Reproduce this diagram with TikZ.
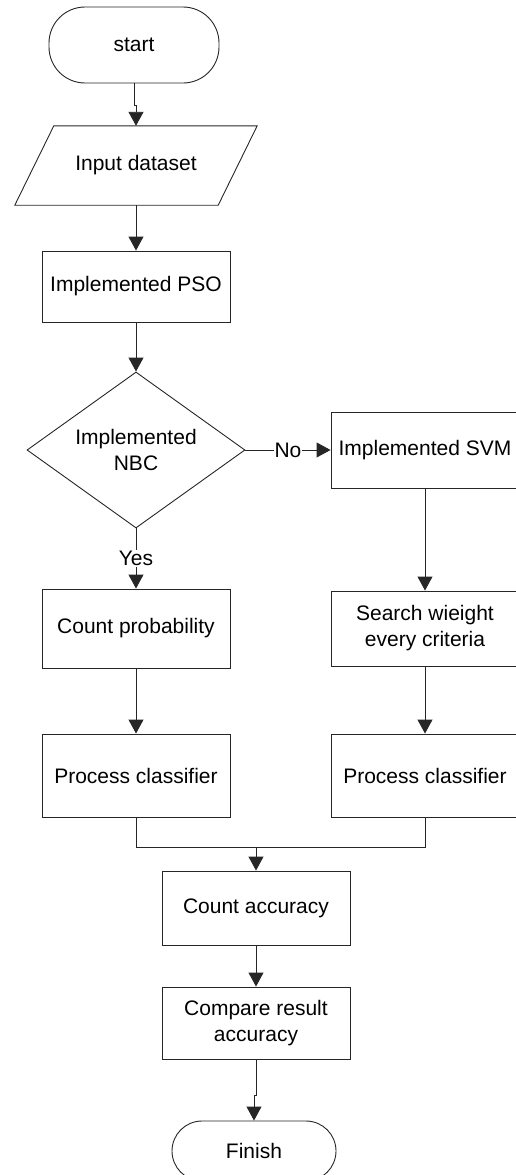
\documentclass[tikz,border=0pt]{standalone}
\usepackage{fontspec}
\setmainfont{Liberation Sans}
\usetikzlibrary{shapes.geometric,arrows.meta}
\begin{document}
\begin{tikzpicture}[x=1pt,y=-1pt,
  every node/.style={font=\fontsize{21}{26}\selectfont},
  box/.style={draw=black!85, line width=0.9pt, rectangle, minimum width=188pt, inner sep=0pt, align=center},
  term/.style={draw=black!85, line width=0.9pt, rectangle, rounded corners=36pt, inner sep=0pt},
  arr/.style={draw=black!85, line width=0.9pt, -{Triangle[length=14pt,width=15pt]}},
  conn/.style={draw=black!85, line width=0.9pt},
  lbl/.style={fill=white, inner sep=1pt}]
\useasboundingbox (0,0) rectangle (516,1175);
% nodes
\node[term, minimum width=170pt, minimum height=76pt] (start) at (134,45) {start};
\node[minimum width=203pt, minimum height=79pt, inner sep=0pt] (input) at (136,165.5) {Input dataset};
\draw[conn] ([xshift=19.5pt]input.north west) -- ([xshift=19.5pt]input.north east)
  -- ([xshift=-19.5pt]input.south east) -- ([xshift=-19.5pt]input.south west) -- cycle;
\node[box, minimum height=71pt] (pso) at (136,286.5) {Implemented PSO};
\node[draw=black!85, line width=0.9pt, diamond, aspect=1.4, inner sep=0pt, minimum width=218pt, minimum height=156pt, align=center] (dec) at (136,450) {Implemented\\NBC};
\node[box, minimum height=76pt] (svm) at (425,450) {Implemented SVM};
\node[box, minimum height=79pt] (cprob) at (136,628.5) {Count probability};
\node[box, minimum height=75pt] (search) at (425,628.5) {Search wieight\\every criteria};
\node[box, minimum height=83pt] (lproc) at (136,775.5) {Process classifier};
\node[box, minimum height=83pt] (rproc) at (425,775.5) {Process classifier};
\node[box, minimum height=74pt] (acc) at (256,908) {Count accuracy};
\node[box, minimum height=72pt] (cmp) at (256,1023) {Compare result\\accuracy};
\node[term, rounded corners=30pt, minimum width=164pt, minimum height=60pt] (finish) at (254,1151) {Finish};
\coordinate (m) at (256,847);
% connectors
\draw[arr] (start.south) -- ++(0,22) -| (input.north);
\draw[arr] (input.south) -- (pso.north);
\draw[arr] (pso.south) -- (dec.north);
\draw[arr] (dec.east) -- node[lbl] {No} (svm.west);
\draw[arr] (dec.south) -- node[lbl] {Yes} (cprob.north);
\draw[arr] (svm.south) -- (search.north);
\draw[arr] (search.south) -- (rproc.north);
\draw[arr] (cprob.south) -- (lproc.north);
\draw[conn] (lproc.south) |- (m) -| (rproc.south);
\draw[arr] (m) -- (acc.north);
\draw[arr] (acc.south) -- (cmp.north);
\draw[arr] (cmp.south) -- ++(0,36) -| (finish.north);
\end{tikzpicture}
\end{document}
